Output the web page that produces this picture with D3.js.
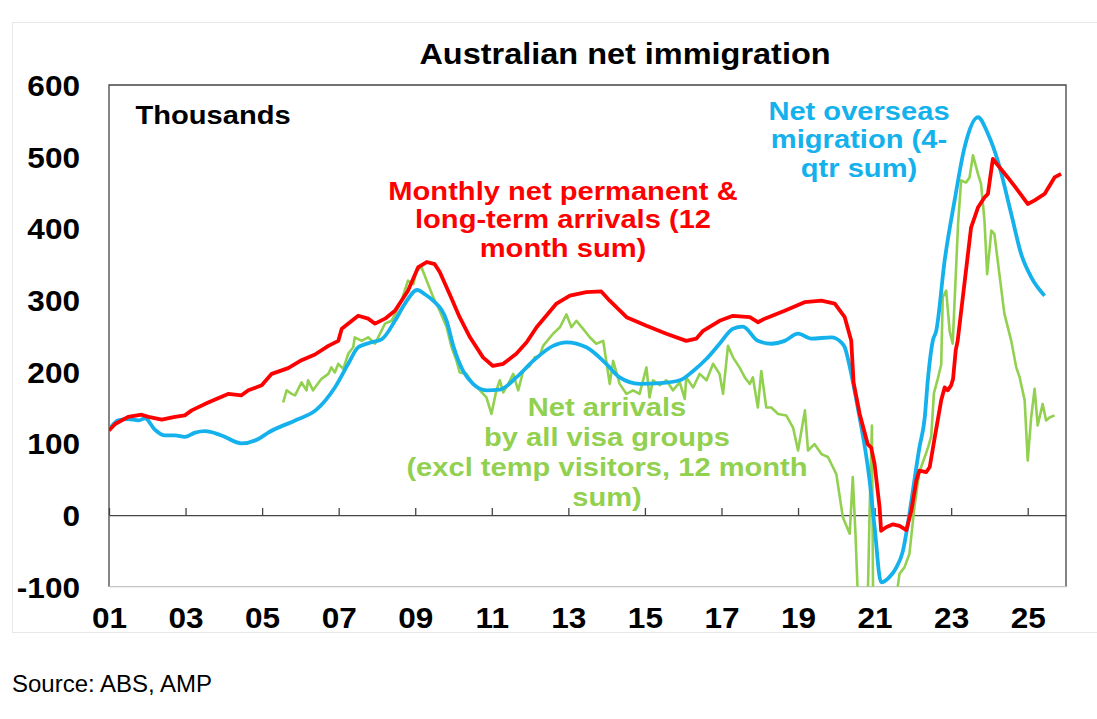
<!DOCTYPE html>
<html>
<head>
<meta charset="utf-8">
<script src="https://cdn.jsdelivr.net/npm/d3@7"></script>
<style>
  body { margin: 0; background: #fff; }
  text { font-family: "Liberation Sans", Arial, sans-serif; }
</style>
</head>
<body>
<div id="vis"></div>
<script>
/* display */
let width = 1097;
let height = 719;
let boundsX = [109, 1066];
let boundsY = [85, 586.7];
let stretch = 1.12; // text in the original is a bit wide

/* data: [year, thousands] */
let redPoints = [
  [2001.00,118],[2001.16,127],[2001.50,137],[2001.85,140],[2002.03,137],[2002.38,133],
  [2002.72,137],[2002.98,139],[2003.16,146],[2003.59,157],[2004.11,169],[2004.46,167],
  [2004.64,174],[2004.99,181],[2005.25,197],[2005.68,205],[2006.03,216],[2006.38,224],
  [2006.73,236],[2006.99,243],[2007.08,260],[2007.51,278],[2007.77,274],[2007.95,267],
  [2008.21,274],[2008.47,285],[2008.81,313],[2009.08,346],[2009.30,353],[2009.51,350],
  [2009.64,339],[2009.90,308],[2010.16,276],[2010.43,248],[2010.77,220],[2011.03,208],
  [2011.30,211],[2011.64,225],[2011.91,241],[2012.17,262],[2012.69,295],[2013.04,306],
  [2013.47,311],[2013.86,312],[2014.08,299],[2014.52,276],[2015.04,264],[2015.56,253],
  [2016.08,243],[2016.34,246],[2016.52,257],[2016.95,271],[2017.30,278],[2017.74,276],
  [2017.95,269],[2018.13,274],[2018.65,285],[2019.17,297],[2019.61,299],[2019.96,295],
  [2020.22,276],[2020.39,243],[2020.45,185],[2020.61,141],[2020.82,99],[2020.91,94],
  [2021.00,71],[2021.13,11],[2021.17,-22],[2021.30,-17],[2021.48,-13],[2021.65,-15],
  [2021.83,-21],[2021.96,6],[2022.09,48],[2022.17,62],[2022.35,60],[2022.44,67],
  [2022.57,108],[2022.74,160],[2022.83,178],[2022.91,174],[2023.00,181],[2023.05,190],
  [2023.12,230],[2023.17,243],[2023.52,401],[2023.70,429],[2023.87,443],[2023.96,448],
  [2024.09,497],[2024.22,488],[2024.48,471],[2024.74,453],[2025.00,434],[2025.18,439],
  [2025.44,448],[2025.70,471],[2025.87,476]
];

let bluePoints = [
  [2001.00,119],[2001.24,132],[2001.50,134],[2001.77,132],[2001.94,135],[2002.20,119],
  [2002.46,111],[2002.72,111],[2002.98,109],[2003.25,115],[2003.51,117],[2003.94,111],
  [2004.46,100],[2004.90,106],[2005.16,115],[2005.86,132],[2006.42,147],[2006.90,178],
  [2007.25,211],[2007.51,234],[2007.86,241],[2008.12,245],[2008.47,271],[2008.73,295],
  [2009.05,314],[2009.25,308],[2009.47,299],[2009.82,271],[2010.00,235],[2010.25,201],
  [2010.51,183],[2010.86,174],[2011.21,175],[2011.64,192],[2012.08,215],[2012.60,236],
  [2012.95,241],[2013.47,234],[2013.99,211],[2014.34,192],[2014.86,183],[2015.39,184],
  [2015.91,188],[2016.26,201],[2016.61,218],[2016.95,239],[2017.30,260],[2017.56,263],
  [2017.95,243],[2018.30,239],[2018.65,243],[2019.00,253],[2019.35,246],[2019.87,248],
  [2020.13,241],[2020.22,234],[2020.39,197],[2020.56,150],[2020.87,48],[2021.00,-17],
  [2021.17,-94],[2021.38,-87],[2021.57,-73],[2021.74,-50],[2021.87,-12],[2022.00,34],
  [2022.17,94],[2022.31,136],[2022.39,188],[2022.52,243],[2022.61,257],[2022.83,355],
  [2023.09,439],[2023.35,513],[2023.70,555],[2023.96,532],[2024.22,494],[2024.57,420],
  [2024.83,364],[2025.09,332],[2025.44,306]
];

let greenPoints = [
  [2005.55,157],[2005.64,174],[2005.77,169],[2005.86,167],[2006.03,185],[2006.16,174],
  [2006.20,188],[2006.33,174],[2006.55,190],[2006.73,197],[2006.81,206],[2006.90,199],
  [2006.99,211],[2007.12,204],[2007.25,225],[2007.38,234],[2007.42,248],[2007.60,243],
  [2007.77,248],[2007.95,239],[2008.08,253],[2008.21,267],[2008.38,271],[2008.47,280],
  [2008.64,299],[2008.81,327],[2008.95,322],[2009.03,341],[2009.16,346],[2009.30,327],
  [2009.47,304],[2009.64,285],[2009.82,262],[2009.95,234],[2010.08,215],[2010.16,199],
  [2010.34,197],[2010.51,183],[2010.69,174],[2010.86,164],[2010.99,141],[2011.12,174],
  [2011.21,188],[2011.30,171],[2011.43,183],[2011.56,197],[2011.69,174],[2011.82,201],
  [2011.99,208],[2012.12,220],[2012.25,222],[2012.34,236],[2012.60,253],[2012.78,262],
  [2012.95,280],[2013.08,262],[2013.21,271],[2013.38,260],[2013.56,248],[2013.73,239],
  [2013.91,243],[2013.99,215],[2014.08,183],[2014.17,215],[2014.34,183],[2014.52,169],
  [2014.69,174],[2014.86,169],[2015.04,206],[2015.12,164],[2015.21,188],[2015.39,181],
  [2015.56,188],[2015.73,174],[2015.91,185],[2016.04,162],[2016.08,192],[2016.26,178],
  [2016.43,197],[2016.61,188],[2016.78,211],[2016.95,197],[2017.04,169],[2017.17,236],
  [2017.30,220],[2017.47,206],[2017.61,192],[2017.74,183],[2017.82,192],[2017.95,150],
  [2018.04,201],[2018.17,150],[2018.30,150],[2018.48,141],[2018.69,139],[2018.87,122],
  [2019.00,90],[2019.18,146],[2019.26,90],[2019.43,99],[2019.61,85],[2019.78,81],
  [2019.91,67],[2020.00,57],[2020.17,-3],[2020.35,-26],[2020.43,53],[2020.50,-26],
  [2020.56,-110],[2020.70,-170],[2020.82,-120],[2020.87,6],[2020.93,125],[2020.96,-110],
  [2021.20,-200],[2021.50,-180],[2021.58,-110],[2021.65,-82],[2021.78,-73],[2021.91,-54],
  [2022.04,11],[2022.17,60],[2022.31,81],[2022.40,95],[2022.48,110],[2022.55,170],
  [2022.65,190],[2022.74,210],[2022.78,304],[2022.87,313],[2022.96,257],[2023.04,239],
  [2023.18,406],[2023.26,467],[2023.39,464],[2023.48,471],[2023.57,502],[2023.70,476],
  [2023.78,462],[2023.87,411],[2023.94,336],[2024.05,397],[2024.13,392],[2024.26,336],
  [2024.39,281],[2024.57,243],[2024.70,206],[2024.79,192],[2024.92,160],[2025.00,76],
  [2025.09,136],[2025.18,176],[2025.26,125],[2025.39,155],[2025.48,132],[2025.57,136],
  [2025.70,139]
];

/* ticks */
let yTicks = [-100, 0, 100, 200, 300, 400, 500, 600];
let xTicks = [2001, 2003, 2005, 2007, 2009, 2011, 2013, 2015, 2017, 2019, 2021, 2023, 2025];
let xTickLabels = ["01","03","05","07","09","11","13","15","17","19","21","23","25"];

/* text */
let titleText = "Australian net immigration";
let unitText = "Thousands";
let redLabel = ["Monthly net permanent &", "long-term arrivals (12", "month sum)"];
let blueLabel = ["Net overseas", "migration (4-", "qtr sum)"];
let greenLabel = ["Net arrivals", "by all visa groups", "(excl temp visitors, 12 month", "sum)"];
let sourceText = "Source: ABS, AMP";

/* colours */
let red = "#ff0000";
let blue = "#14b1ec";
let green = "#92d050";

/* scales */
let x = d3.scaleLinear().domain([2001, 2026]).range(boundsX);
let y = d3.scaleLinear().domain([-100, 600]).range([boundsY[1], boundsY[0]]);


let svg = d3.select("#vis").append("svg")
  .attr("width", width)
  .attr("height", height)
  .style("background-color", "#fff");

/* faint outer frame */
svg.append("rect")
  .attr("x", 12.5).attr("y", 22.5)
  .attr("width", 1100).attr("height", 610)
  .attr("fill", "none")
  .attr("stroke", "#e8e8e8");

/* clip for the lines */
svg.append("clipPath").attr("id", "plotClip")
  .append("rect")
    .attr("x", boundsX[0]).attr("y", boundsY[0])
    .attr("width", boundsX[1] - boundsX[0])
    .attr("height", boundsY[1] - boundsY[0]);

/* plot border: dark top/left/right, light bottom */
let border = d3.path();
border.moveTo(boundsX[0], boundsY[1]);
border.lineTo(boundsX[0], boundsY[0]);
border.lineTo(boundsX[1], boundsY[0]);
border.lineTo(boundsX[1], boundsY[1]);
svg.append("path")
  .attr("d", border.toString())
  .attr("fill", "none")
  .attr("stroke", "#444")
  .attr("stroke-width", 1.3);
svg.append("line")
  .attr("x1", boundsX[0]).attr("x2", boundsX[1])
  .attr("y1", boundsY[1]).attr("y2", boundsY[1])
  .attr("stroke", "#c4c4c4")
  .attr("stroke-width", 1.3);

/* zero line with tick marks pointing up */
let zeroAxis = svg.append("g")
  .attr("transform", "translate(0," + y(0) + ")")
  .call(d3.axisTop(x).tickValues(xTicks).tickSize(7).tickSizeOuter(0).tickFormat(""));
zeroAxis.selectAll("path, line").attr("stroke", "#444").attr("stroke-width", 1.3);

/* x labels under the plot */
let xAxis = svg.append("g")
  .attr("transform", "translate(0," + boundsY[1] + ")")
  .call(d3.axisBottom(x).tickValues(xTicks).tickSize(0)
    .tickFormat((d, i) => xTickLabels[i]));
xAxis.select(".domain").remove();
xAxis.selectAll("text")
  .attr("y", null).attr("dy", null)
  .attr("transform", "translate(0,41.5) scale(1.07,1)")
  .attr("font-size", 29.5)
  .attr("font-weight", "bold")
  .attr("fill", "#000");

/* y labels (plain hyphen for negatives, as in the original) */
let yAxis = svg.append("g")
  .attr("transform", "translate(" + boundsX[0] + ",0)")
  .call(d3.axisLeft(y).tickValues(yTicks).tickSize(0).tickFormat(d => String(d)));
yAxis.select(".domain").remove();
yAxis.selectAll("text")
  .attr("x", null)
  .attr("dy", "0.36em")
  .attr("transform", "translate(-29,0) scale(1.07,1)")
  .attr("font-size", 29.5)
  .attr("font-weight", "bold")
  .attr("fill", "#000");

/* series */
let lines = svg.append("g").attr("clip-path", "url(#plotClip)");
let line = d3.line().x(d => x(d[0])).y(d => y(d[1]));
let smooth = d3.line().curve(d3.curveMonotoneX).x(d => x(d[0])).y(d => y(d[1]));

lines.append("path")
  .attr("d", line(greenPoints))
  .attr("fill", "none")
  .attr("stroke", green)
  .attr("stroke-width", 2.6)
  .attr("stroke-linejoin", "round");
lines.append("path")
  .attr("d", smooth(bluePoints))
  .attr("fill", "none")
  .attr("stroke", blue)
  .attr("stroke-width", 3.8)
  .attr("stroke-linejoin", "round");
lines.append("path")
  .attr("d", line(redPoints))
  .attr("fill", "none")
  .attr("stroke", red)
  .attr("stroke-width", 3.8)
  .attr("stroke-linejoin", "round");

/* helper: stretched bold text, one line per entry */
function label (rows, cx, y0, step, size, color, anchor) {
  let g = svg.append("g");
  rows.forEach((r, i) => {
    g.append("text")
      .attr("transform", "translate(" + cx + "," + (y0 + i*step) + ") scale(" + stretch + ",1)")
      .attr("text-anchor", anchor || "middle")
      .attr("font-size", size)
      .attr("font-weight", "bold")
      .attr("fill", color)
      .text(r);
  });
  return g;
}

label([titleText], 625, 63.5, 0, 29, "#000");
label([unitText], 135.5, 124.3, 0, 26, "#000", "start");
label(redLabel, 563, 199.5, 28.7, 26, red);
label(blueLabel, 859, 120, 28.4, 26, blue);
label(greenLabel, 607, 416, 30, 26, green);

svg.append("text")
  .attr("x", 12)
  .attr("y", 691.5)
  .attr("font-size", 24)
  .attr("fill", "#000")
  .text(sourceText);
</script>
</body>
</html>
